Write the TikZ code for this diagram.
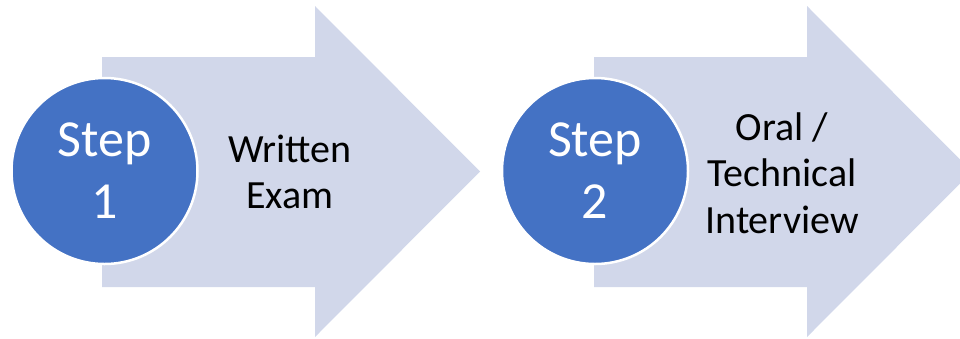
\documentclass[tikz,border=0pt]{standalone}
\usepackage{fontspec}
\setmainfont{Carlito}
\definecolor{arrowfill}{HTML}{D1D7EA}
\definecolor{stepblue}{HTML}{4472C4}
\begin{document}
\begin{tikzpicture}[x=1pt,y=-1pt,
  bigarrow/.style={fill=arrowfill,draw=none},
  stepcircle/.style={circle,fill=stepblue,draw=white,line width=2.5pt,minimum size=186pt,inner sep=0pt,
     text=white,align=center,font=\fontsize{52}{62}\selectfont},
  steplabel/.style={align=center,text=black,font=\fontsize{40}{46.5}\selectfont,inner sep=0pt}]
\useasboundingbox (0,0) rectangle (960,338);
% arrows
\fill[bigarrow] (102,57) -- (315,57) -- (315,6) -- (480,171.5) -- (315,337) -- (315,287) -- (102,287) -- cycle;
\fill[bigarrow] (594,57) -- (807,57) -- (807,6) -- (972,171.5) -- (807,337) -- (807,287) -- (594,287) -- cycle;
% circles
\node[stepcircle] (s1) at (104.5,171) {Step\\1};
\node[stepcircle] (s2) at (595,171) {Step\\2};
% labels
\node[steplabel] (t1) at (290,172) {Written\\Exam};
\node[steplabel] (t2) at (782,173) {Oral /\\Technical\\Interview};
\end{tikzpicture}
\end{document}
